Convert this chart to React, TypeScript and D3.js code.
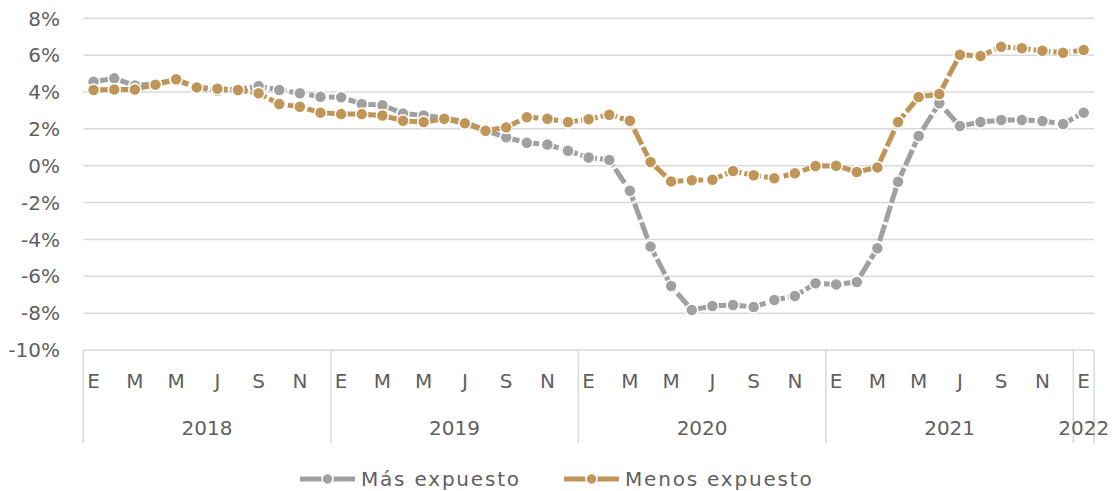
import React from 'react';
import * as d3 from 'd3';

// monthly change, Jan 2018 .. Jan 2022
const years = ['2018', '2019', '2020', '2021', '2022'];
const monthLetters = ['E', 'F', 'M', 'A', 'M', 'J', 'J', 'A', 'S', 'O', 'N', 'D'];

const masExpuesto = [
  4.56, 4.74, 4.35, 4.45, 4.65, 4.25, 4.07, 4.15, 4.32, 4.11, 3.93, 3.74,
  3.71, 3.35, 3.28, 2.84, 2.73, 2.6, 2.38, 1.9, 1.54, 1.25, 1.15, 0.81,
  0.45, 0.31, -1.36, -4.39, -6.53, -7.83, -7.61, -7.56, -7.67, -7.29, -7.07, -6.38,
  -6.44, -6.31, -4.48, -0.87, 1.61, 3.39, 2.15, 2.37, 2.48, 2.48, 2.43, 2.26,
  2.88,
];

const menosExpuesto = [
  4.11, 4.14, 4.14, 4.4, 4.69, 4.25, 4.18, 4.11, 3.93, 3.35, 3.2, 2.88,
  2.8, 2.8, 2.73, 2.44, 2.37, 2.55, 2.3, 1.9, 2.08, 2.63, 2.55, 2.37,
  2.52, 2.77, 2.44, 0.2, -0.85, -0.79, -0.76, -0.29, -0.52, -0.68, -0.41, -0.02,
  0.0, -0.34, -0.09, 2.37, 3.73, 3.89, 6.02, 5.95, 6.46, 6.37, 6.24, 6.13,
  6.28,
];

const yTicks = [8, 6, 4, 2, 0, -2, -4, -6, -8, -10];

const series = [
  { name: 'Más expuesto', values: masExpuesto, color: '#a0a0a0' },
  { name: 'Menos expuesto', values: menosExpuesto, color: '#c09558' },
];

const W = 1117;
const H = 491;
const font = '"DejaVu Sans", sans-serif';
const textColor = '#5f5f5f';
const gridColor = '#d9d9d9';

export default function App() {
  const n = masExpuesto.length;
  const idx = d3.range(n);

  const x = d3.scaleBand<number>().domain(idx).range([83.3, 1094]).padding(0);
  const cx = (i: number) => (x(i) as number) + x.bandwidth() / 2;
  const y = d3.scaleLinear().domain([-10, 8]).range([350, 18.3]);

  const line = d3.line<number>()
    .x((d, i) => cx(i))
    .y(d => y(d));

  const yearBounds = [0, 12, 24, 36, 48, 49].map(i => (i < n ? (x(i) as number) : 1094));

  return (
    <div style={{ position: 'fixed', left: 0, top: 0, width: W, height: H, background: '#fff' }}>
      <svg width={W} height={H} style={{ display: 'block' }} fontFamily={font}>
        {/* horizontal grid */}
        {yTicks.map(t => (
          <g key={t}>
            <line x1={83.3} x2={1094} y1={y(t)} y2={y(t)} stroke={gridColor} strokeWidth={1.5} />
            <text x={60} y={y(t)} dy="0.36em" textAnchor="end" fontSize={20} fill={textColor}>
              {t}%
            </text>
          </g>
        ))}

        {/* category axis separators */}
        {yearBounds.map((bx, k) => (
          <line key={k} x1={bx} x2={bx} y1={350} y2={443} stroke={gridColor} strokeWidth={1.5} />
        ))}

        {idx.filter(i => i % 2 === 0).map(i => (
          <text key={i} x={cx(i)} y={381} dy="0.36em" textAnchor="middle" fontSize={20} fill={textColor}>
            {monthLetters[i % 12]}
          </text>
        ))}

        {years.map((yr, k) => {
          const xc = k < 4 ? (yearBounds[k] + yearBounds[k + 1]) / 2 : cx(48);
          return (
            <text key={yr} x={xc} y={428} dy="0.36em" textAnchor="middle" fontSize={20} fill={textColor}>
              {yr}
            </text>
          );
        })}

        {/* series */}
        {series.map(s => (
          <g key={s.name}>
            <path
              d={line(s.values) || ''}
              fill="none"
              stroke={s.color}
              strokeWidth={5}
              strokeDasharray="17 3"
              strokeLinejoin="round"
            />
            {s.values.map((v, i) => (
              <circle key={i} cx={cx(i)} cy={y(v)} r={6} fill={s.color} stroke="#fff" strokeWidth={1.5} />
            ))}
          </g>
        ))}

        {/* legend */}
        {series.map((s, k) => {
          const lx = k === 0 ? 300 : 564;
          return (
            <g key={s.name} transform={`translate(${lx},479)`}>
              <line x1={0} x2={55} y1={0} y2={0} stroke={s.color} strokeWidth={5} />
              <circle cx={27.5} cy={0} r={5.5} fill={s.color} stroke="#fff" strokeWidth={1.5} />
              <text x={61} y={0} dy="0.36em" fontSize={20} letterSpacing={1.8} fill={textColor}>
                {s.name}
              </text>
            </g>
          );
        })}
      </svg>
    </div>
  );
}
